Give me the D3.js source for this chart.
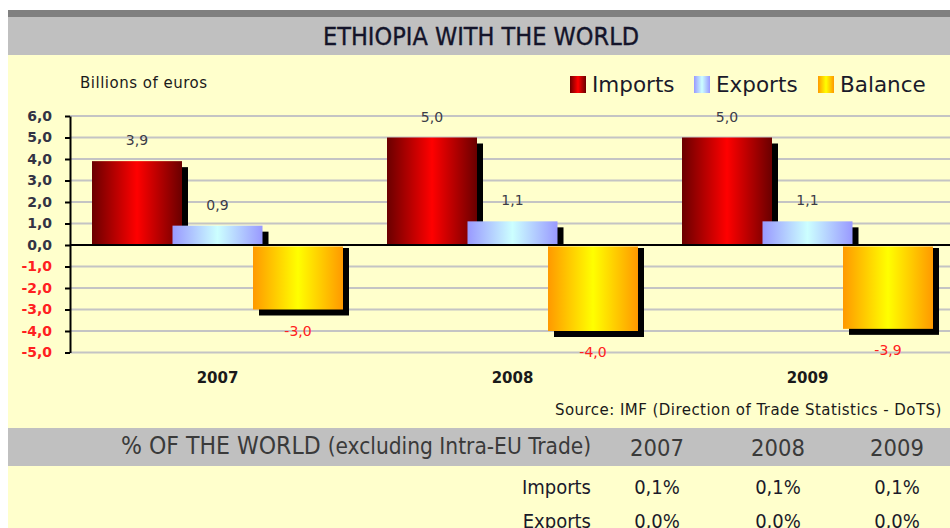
<!DOCTYPE html>
<html><head><meta charset="utf-8">
<script src="https://cdn.jsdelivr.net/npm/d3@7"></script>
<style>body{margin:0;background:#fff;} svg{display:block;}</style>
</head><body><svg id="c" width="950" height="528"></svg>
<script>
// ---- data ----
const years = ["2007", "2008", "2009"];
const seriesNames = ["Imports", "Exports", "Balance"];
const importsValues = [3.9, 5.0, 5.0];
const exportsValues = [0.9, 1.1, 1.1];
const balanceValues = [-3.0, -4.0, -3.9];
const yTickValues = [6, 5, 4, 3, 2, 1, 0, -1, -2, -3, -4, -5];
const tableTitle = "% OF THE WORLD";
const tableSubtitle = "(excluding Intra-EU Trade)";
const tableYears = ["2007", "2008", "2009"];
const tableRowLabels = ["Imports", "Exports"];
const tableImports = ["0,1%", "0,1%", "0,1%"];
const tableExports = ["0,0%", "0,0%", "0,0%"];

const seriesValues = [importsValues, exportsValues, balanceValues];
const data = years.map((yr, i) => ({
  year: yr,
  values: seriesNames.map((s, k) => ({ series: s, value: seriesValues[k][i] }))
}));

const locale = d3.formatLocale({ decimal: ",", thousands: ".", grouping: [3], currency: ["", "€"], minus: "-" });
const fmt = locale.format(".1f");

const svg = d3.select("#c");
const sans = "'DejaVu Sans', Verdana, sans-serif";
const cond = "'DejaVu Sans Condensed', 'Liberation Sans Narrow', 'DejaVu Sans', sans-serif";

// gradients
const defs = svg.append("defs");
const grads = {
  Imports: ["#6a0000", "#ff0000", "#6a0000"],
  Exports: ["#9999ff", "#ccffff", "#9999ff"],
  Balance: ["#ff9900", "#ffff00", "#ff9900"]
};
Object.entries(grads).forEach(([name, cols]) => {
  const g = defs.append("linearGradient").attr("id", "g" + name)
    .attr("x1", "0%").attr("x2", "100%").attr("y1", "0%").attr("y2", "0%");
  g.append("stop").attr("offset", "0%").attr("stop-color", cols[0]);
  g.append("stop").attr("offset", "50%").attr("stop-color", cols[1]);
  g.append("stop").attr("offset", "100%").attr("stop-color", cols[2]);
});

// backgrounds
svg.append("rect").attr("x", 8).attr("y", 55).attr("width", 942).attr("height", 473).attr("fill", "#ffffcc");
svg.append("rect").attr("x", 8).attr("y", 10).attr("width", 942).attr("height", 7).attr("fill", "#808080");
svg.append("rect").attr("x", 8).attr("y", 17).attr("width", 942).attr("height", 38).attr("fill", "#c0c0c0");
svg.append("text").attr("x", 481).attr("y", 36).attr("dy", "0.36em").attr("text-anchor", "middle")
  .attr("font-family", cond).attr("font-size", 25).attr("fill", "#14142a")
  .attr("stroke", "#14142a").attr("stroke-width", 0.35)
  .text("ETHIOPIA WITH THE WORLD");

// scales
const plotLeft = 70;
const x0 = d3.scaleBand().domain(years).range([plotLeft, plotLeft + 295 * 3]).paddingInner(0).paddingOuter(0);
const x1 = d3.scaleBand().domain(seriesNames).range([22, 22 + 3 * 80.5]).padding(0);
const barW = 90;
const y = d3.scaleLinear().domain([-5, 6]).range([352.5, 116]);

// grid
svg.append("g").selectAll("line").data(yTickValues.filter(v => v !== 0)).join("line")
  .attr("x1", plotLeft).attr("x2", 950)
  .attr("y1", d => y(d)).attr("y2", d => y(d))
  .attr("stroke", "#c4c4c4").attr("stroke-width", 2);

// bars
const shadowOff = 6;
const groups = svg.append("g").selectAll("g").data(data).join("g")
  .attr("transform", d => `translate(${x0(d.year)},0)`);
groups.each(function (d) {
  const g = d3.select(this);
  d.values.forEach(v => {
    const bx = x1(v.series);
    const top = y(Math.max(v.value, 0));
    const bot = y(Math.min(v.value, 0));
    if (v.value >= 0) {
      g.append("rect").attr("x", bx + shadowOff).attr("y", top + shadowOff)
        .attr("width", barW).attr("height", Math.max(0, y(0) - top - shadowOff)).attr("fill", "#000");
    } else {
      g.append("rect").attr("x", bx + shadowOff).attr("y", y(0) + 3)
        .attr("width", barW).attr("height", bot + shadowOff - y(0) - 3).attr("fill", "#000");
    }
    g.append("rect").attr("x", bx).attr("y", v.value >= 0 ? top : y(0) + 1.5)
      .attr("width", barW).attr("height", v.value >= 0 ? bot - top : bot - y(0) - 1.5)
      .attr("fill", `url(#g${v.series})`);
  });
});

// value labels
groups.each(function (d) {
  const g = d3.select(this);
  d.values.forEach(v => {
    const cx = x1(v.series) + barW / 2;
    const ly = v.value >= 0 ? y(v.value) - 21 : y(v.value) + 21;
    g.append("text").attr("x", cx).attr("y", ly).attr("dy", "0.36em").attr("text-anchor", "middle")
      .attr("font-family", sans).attr("font-size", 14)
      .attr("fill", v.value >= 0 ? "#3c3c48" : "#ff2020")
      .text(fmt(v.value));
  });
});

// zero line
svg.append("line").attr("x1", plotLeft).attr("x2", 950).attr("y1", y(0)).attr("y2", y(0))
  .attr("stroke", "#000").attr("stroke-width", 2);

// y axis
const yAxis = svg.append("g").attr("transform", `translate(${plotLeft},0)`)
  .call(d3.axisLeft(y).tickValues(yTickValues).tickSize(5).tickSizeOuter(0).tickPadding(13).tickFormat(fmt));
yAxis.select(".domain").attr("stroke", "#000").attr("stroke-width", 2);
yAxis.selectAll(".tick line").attr("stroke", "#000").attr("stroke-width", 2);
yAxis.selectAll(".tick text").attr("font-family", sans).attr("font-size", 14).attr("font-weight", "bold")
  .attr("fill", d => d < 0 ? "#ff2020" : "#333344");

// category labels
svg.append("g").selectAll("text").data(years).join("text")
  .attr("x", d => x0(d) + 22 + (2 * 80.5 + barW) / 2).attr("y", 378).attr("dy", "0.36em")
  .attr("text-anchor", "middle").attr("font-family", sans).attr("font-size", 15).attr("font-weight", "bold")
  .attr("fill", "#1a1a1a").text(d => d);

// units label
svg.append("text").attr("x", 80).attr("y", 83).attr("dy", "0.36em")
  .attr("font-family", sans).attr("font-size", 15).attr("letter-spacing", 0.5)
  .attr("fill", "#1a1a1a").text("Billions of euros");

// legend
const legendX = { Imports: 570, Exports: 694, Balance: 818 };
const legend = svg.append("g").selectAll("g").data(seriesNames).join("g")
  .attr("transform", d => `translate(${legendX[d]},76)`);
legend.append("rect").attr("width", 16).attr("height", 17).attr("fill", d => `url(#g${d})`);
legend.append("text").attr("x", 22).attr("y", 8.5).attr("dy", "0.36em")
  .attr("font-family", sans).attr("font-size", 21.5).attr("fill", "#1a1a2a").text(d => d);

// source
svg.append("text").attr("x", 555).attr("y", 410).attr("dy", "0.36em")
  .attr("font-family", sans).attr("font-size", 15).attr("letter-spacing", 0.45).attr("fill", "#1a1a1a")
  .text("Source: IMF (Direction of Trade Statistics - DoTS)");

// table
svg.append("rect").attr("x", 8).attr("y", 428).attr("width", 942).attr("height", 38).attr("fill", "#c0c0c0");
const th = svg.append("text").attr("x", 121).attr("y", 448).attr("dy", "0.36em")
  .attr("font-family", cond).attr("fill", "#3a3a3a");
th.append("tspan").attr("font-size", 24.5).text(tableTitle + " ");
th.append("tspan").attr("font-size", 22.5).text(tableSubtitle);
const colX = [657, 778, 897];
svg.append("g").selectAll("text").data(tableYears).join("text")
  .attr("x", (d, i) => colX[i]).attr("y", 448).attr("dy", "0.36em").attr("text-anchor", "middle")
  .attr("font-family", cond).attr("font-size", 23.5).attr("fill", "#3a3a3a").text(d => d);
const rows = [tableImports, tableExports];
rows.forEach((r, ri) => {
  const ry = 487 + ri * 34;
  svg.append("text").attr("x", 591).attr("y", ry).attr("dy", "0.36em").attr("text-anchor", "end")
    .attr("font-family", cond).attr("font-size", 20).attr("fill", "#1a1a2a").text(tableRowLabels[ri]);
  svg.append("g").selectAll("text").data(r).join("text")
    .attr("x", (d, i) => colX[i]).attr("y", ry).attr("dy", "0.36em").attr("text-anchor", "middle")
    .attr("font-family", cond).attr("font-size", 20).attr("fill", "#1a1a2a").text(d => d);
});
</script>
</body></html>
